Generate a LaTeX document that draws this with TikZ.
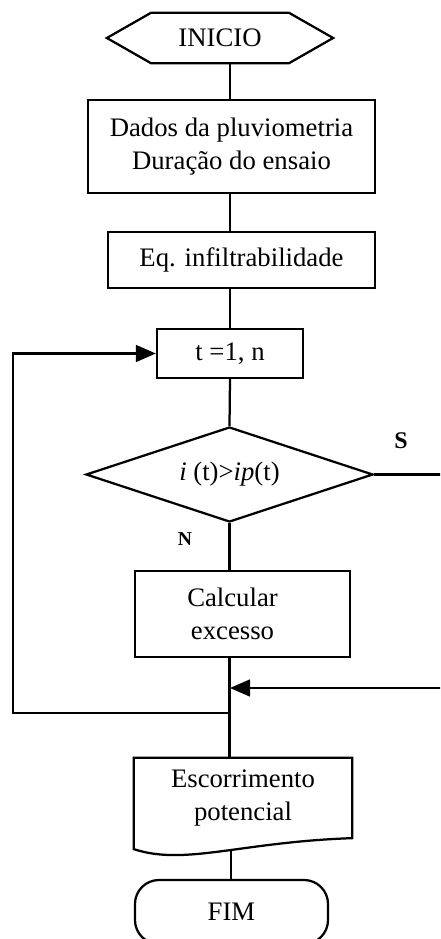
\documentclass[tikz,border=0pt]{standalone}
\usepackage{fontspec}
\setmainfont{Liberation Serif}
\usetikzlibrary{arrows.meta,shapes.geometric}

\begin{document}
\begin{tikzpicture}[x=0.025cm,y=-0.025cm,line width=1.6pt,
  txt/.style={font=\fontsize{19}{23}\selectfont,align=center},
  box/.style={draw,txt,inner sep=0pt},
  arr/.style={-{Triangle[length=5mm,width=4.2mm]}}]
\useasboundingbox (0,0) rectangle (440,939);
\clip (0,0) rectangle (440,939);
% boxes
\node[txt,minimum width=5.6cm,minimum height=1.2cm] (ini) at (220,38) {INICIO};
\draw (ini.west) -- ([xshift=1.1cm]ini.north west) -- ([xshift=-1.1cm]ini.north east) -- (ini.east)
  -- ([xshift=-1.1cm]ini.south east) -- ([xshift=1.1cm]ini.south west) -- cycle;
\node[box,minimum width=7.175cm,minimum height=2.325cm] (dados) at (231.5,146.5) {Dados da pluviometria\\Duração do ensaio};
\node[box,minimum width=6.675cm,minimum height=1.4cm] (eq) at (241.5,260) {Eq. infiltrabilidade};
\node[box,minimum width=3.65cm,minimum height=1.225cm] (tbox) at (230,353.5) {t =1, n};
\node[box,diamond,aspect=3,minimum width=7.175cm,minimum height=2.375cm] (dec) at (229.5,474.5) {\textit{i} (t)>\textit{ip}(t)};
\node[box,minimum width=5.375cm,minimum height=2.15cm,
  label={[txt,xshift=-0.25cm]center:Calcular\\excesso}] (calc) at (242.5,614) {};
\node[txt,inner sep=0pt,minimum width=5.4cm,minimum height=1.95cm] (esc) at (243,798) {Escorrimento\\potencial};
\draw (esc.north west) -- (esc.north east) -- (esc.south east)
  .. controls (240,842) and (185,866) .. coordinate[pos=0.447] (escb) ([yshift=-0.275cm]esc.south west) -- cycle;
\node[box,rounded corners=0.6cm,minimum width=4.825cm,minimum height=1.6cm] (fim) at (231.5,912) {FIM};
\node[font=\fontsize{17}{20}\selectfont\bfseries] (s) at (401,441) {S}; %label
\node[font=\fontsize{14}{17}\selectfont\bfseries] (n) at (185,539) {N}; %label
% junctions
\coordinate (jn) at (230,688);
\coordinate (lp) at (230,713);
\coordinate (lft) at (13,713);
\coordinate (rgt) at (452,474.5);
% lines
\draw (ini.south -| tbox) -- (dados.north -| tbox);
\draw (dados.south -| tbox) -- (eq.north -| tbox);
\draw (eq.south -| tbox) -- (tbox.north);
\draw (tbox.south) -- (dec.north);
\draw (dec.south) -- (calc.north -| dec);
\draw (calc.south -| dec) -- (esc.north -| dec);
\draw[arr] (lp) -- (lft) |- (tbox.west);
\draw[arr] (dec.east) -- (rgt) |- (jn);
\draw (escb) -- (escb |- fim.north);
\end{tikzpicture}
\end{document}
